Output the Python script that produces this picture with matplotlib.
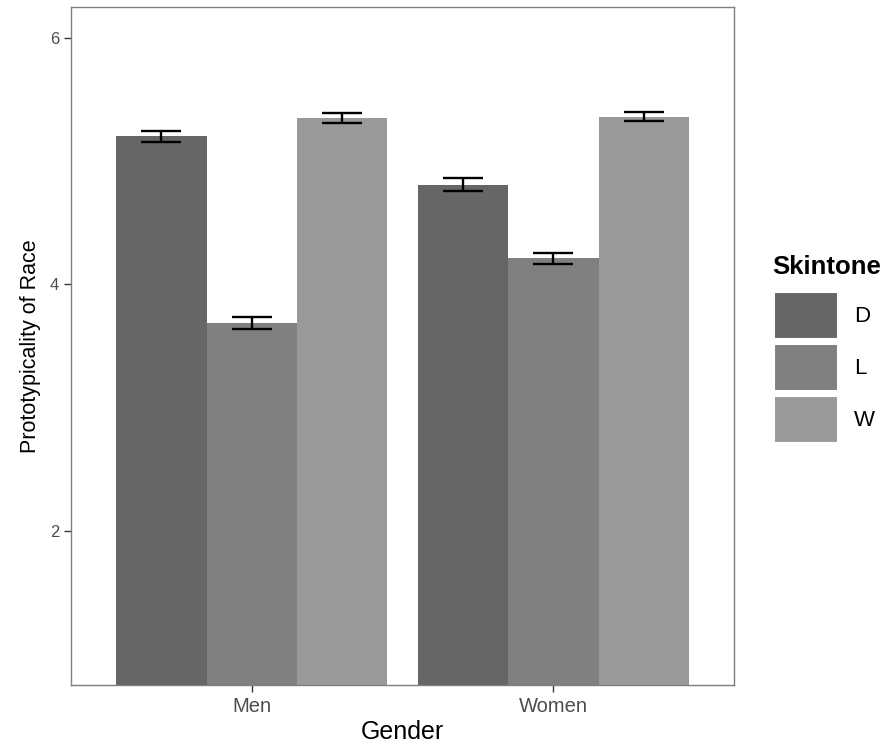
import numpy as np
import matplotlib
matplotlib.use("Agg")
import matplotlib.pyplot as plt
from matplotlib.patches import Patch

plt.rcParams['font.family'] = ['Liberation Sans', 'DejaVu Sans']

# data
genders = ['Men', 'Women']
skintones = ['D', 'L', 'W']
means = {'D': [5.20, 4.81], 'L': [3.69, 4.21], 'W': [5.35, 5.36]}
errs = {'D': [0.045, 0.05], 'L': [0.049, 0.043], 'W': [0.04, 0.035]}
colours = {'D': '#666666', 'L': '#808080', 'W': '#999999'}

fig = plt.figure(figsize=(8.94, 7.46), dpi=100)
ax = fig.add_axes([0.0794, 0.0818, 0.7418, 0.9088])

x = np.arange(1, len(genders) + 1)
w = 0.3
for i, s in enumerate(skintones):
    xs = x + (i - 1) * w
    ax.bar(xs, means[s], width=w, color=colours[s], zorder=2)
    ax.errorbar(xs, means[s], yerr=errs[s], fmt='none', ecolor='black',
                elinewidth=1.7, capsize=14.4, capthick=1.7, zorder=3)

ax.set_xlim(0.4, 2.6)
ax.set_ylim(0.75, 6.25)
ax.set_xticks(x)
ax.set_xticklabels(genders, fontsize=14.5)
ax.set_yticks([2, 4, 6])
ax.tick_params(colors='#333333', labelcolor='#4D4D4D', length=5, width=1)
ax.tick_params(axis='y', labelsize=12)
for sp in ax.spines.values():
    sp.set_color('#7F7F7F')
    sp.set_linewidth(1)

ax.set_xlabel('Gender', fontsize=18, labelpad=3)
ax.set_ylabel('Prototypicality of Race', fontsize=15.5, labelpad=6)

# legend title as its own text, keys below it
fig.text(0.8635, 0.642, 'Skintone', fontsize=18.5, fontweight='bold', va='center', ha='left')
handles = [Patch(facecolor=colours[s], edgecolor='white', linewidth=1.5) for s in skintones]
leg = fig.legend(handles, skintones, loc='upper left',
                 bbox_to_anchor=(0.8658, 0.6085), frameon=False, fontsize=16,
                 handlelength=2.9, handleheight=2.9, handletextpad=0.7,
                 labelspacing=0.2, borderaxespad=0, borderpad=0)

fig.savefig('out.png', dpi=100)
